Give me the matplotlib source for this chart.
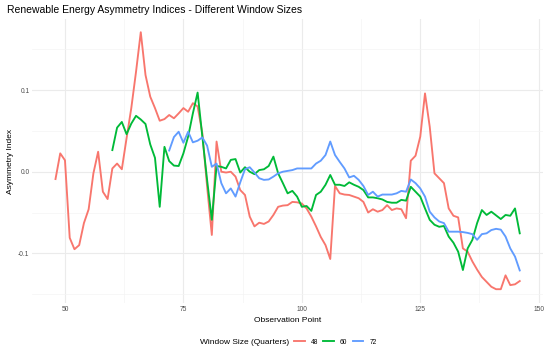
import numpy as np
import matplotlib
matplotlib.use("Agg")
import matplotlib.pyplot as plt
from matplotlib.lines import Line2D

plt.rcParams['font.family'] = ['Liberation Sans', 'DejaVu Sans']

# window size 48: observation points 48..146
x48 = list(range(48, 147))
y48 = [-0.009, 0.0225, 0.014, -0.081, -0.095, -0.090, -0.063, -0.046, -0.002, 0.0245,
       -0.0245, -0.0335, 0.004, 0.010, 0.003, 0.041, 0.078, 0.1225, 0.171, 0.1185,
       0.092, 0.078, 0.0625, 0.0645, 0.0695, 0.0655, 0.0715, 0.078, 0.0735, 0.084,
       0.080, 0.047, -0.018, -0.0775, 0.037, 0.000, -0.001, 0.000, -0.006, -0.0225,
       -0.0285, -0.055, -0.067, -0.0625, -0.064, -0.061, -0.053, -0.043, -0.0415, -0.041,
       -0.037, -0.0375, -0.039, -0.045, -0.055, -0.067, -0.080, -0.090, -0.107, -0.0175,
       -0.0265, -0.028, -0.0285, -0.0305, -0.0325, -0.037, -0.050, -0.046, -0.049, -0.047,
       -0.041, -0.047, -0.045, -0.046, -0.057, 0.0135, 0.0196, 0.043, 0.096, 0.055,
       -0.002, -0.008, -0.014, -0.045, -0.054, -0.056, -0.094, -0.098, -0.110, -0.120,
       -0.129, -0.135, -0.141, -0.144, -0.144, -0.127, -0.139, -0.138, -0.134]

# window size 60: observation points 60..146
x60 = list(range(60, 147))
y60 = [0.0265, 0.054, 0.061, 0.046, 0.059, 0.0685, 0.064, 0.0585, 0.0335, 0.017,
       -0.043, 0.0305, 0.013, 0.0075, 0.007, 0.0225, 0.043, 0.0715, 0.097, 0.043,
       -0.010, -0.059, 0.007, 0.006, 0.004, 0.0145, 0.0155, -0.001, 0.0055, 0.000,
       -0.003, 0.002, 0.003, 0.007, 0.0185, -0.002, -0.014, -0.0265, -0.0235, -0.0305,
       -0.043, -0.042, -0.048, -0.0285, -0.0245, -0.016, -0.004, -0.016, -0.016, -0.0175,
       -0.013, -0.016, -0.0185, -0.0225, -0.0315, -0.0315, -0.0325, -0.034, -0.037, -0.038,
       -0.038, -0.0345, -0.0355, -0.0185, -0.0245, -0.0305, -0.045, -0.059, -0.065, -0.0675,
       -0.0665, -0.0795, -0.087, -0.098, -0.1205, -0.094, -0.0835, -0.063, -0.047, -0.053,
       -0.049, -0.0535, -0.058, -0.053, -0.054, -0.045, -0.0755]

# window size 72: observation points 72..146
x72 = list(range(72, 147))
y72 = [0.026, 0.0425, 0.049, 0.0355, 0.049, 0.036, 0.038, 0.042, 0.032, 0.006,
       0.010, -0.014, -0.0265, -0.0205, -0.0305, -0.013, 0.003, 0.0055, -0.001, -0.008,
       -0.010, -0.0095, -0.006, -0.002, 0.000, 0.001, 0.002, 0.004, 0.004, 0.004,
       0.004, 0.010, 0.0135, 0.0205, 0.037, 0.0205, 0.012, 0.004, -0.007, -0.005,
       -0.010, -0.0175, -0.0285, -0.0245, -0.0305, -0.028, -0.028, -0.028, -0.0265, -0.0235,
       -0.0245, -0.0095, -0.014, -0.0205, -0.0305, -0.049, -0.056, -0.061, -0.063, -0.0735,
       -0.0735, -0.0735, -0.074, -0.075, -0.0765, -0.0835, -0.0765, -0.0755, -0.0715, -0.070,
       -0.071, -0.0795, -0.094, -0.104, -0.121]

series = [(x48, y48, "48", "#F8766D"),
          (x60, y60, "60", "#00BA38"),
          (x72, y72, "72", "#619CFF")]

fig = plt.figure(figsize=(5.5, 3.53), dpi=100)
ax = fig.add_axes([0.0587, 0.1419, 0.9285, 0.8034])

for xs, ys, lab, col in series:
    ax.plot(xs, ys, color=col, lw=1.35, label=lab, solid_joinstyle='round')

ax.set_xlim(43.1, 150.9)
ax.set_ylim(-0.1608, 0.1868)
ax.set_xticks([50, 75, 100, 125, 150])
ax.set_xticks([62.5, 87.5, 112.5, 137.5], minor=True)
ax.set_yticks([-0.1, 0.0, 0.1])
ax.set_yticks([-0.15, -0.05, 0.05, 0.15], minor=True)
ax.set_yticklabels(["-0.1", "0.0", "0.1"])
ax.grid(which='major', color='#EBEBEB', lw=0.8)
ax.grid(which='minor', color='#F4F4F4', lw=0.5)
ax.set_axisbelow(True)
for s in ax.spines.values():
    s.set_visible(False)
ax.tick_params(which='both', length=0, labelsize=4.8, labelcolor='#4D4D4D', pad=2)

ax.set_xlabel("Observation Point", fontsize=6, labelpad=3)
ax.set_ylabel("Asymmetry Index", fontsize=6, labelpad=3)

fig.text(7/550, 1 - 10/353, "Renewable Energy Asymmetry Indices - Different Window Sizes",
         fontsize=7.5, ha='left', va='center')

fig.text(200/550, 1 - 342/353, "Window Size (Quarters)", fontsize=6, ha='left', va='center')
handles = [Line2D([], [], color=c, lw=1.35) for _, _, _, c in series]
fig.legend(handles, [l for _, _, l, _ in series], loc='center left',
           bbox_to_anchor=(294/550, 1 - 342/353), ncol=3, frameon=False,
           fontsize=4.8, handlelength=1.6, handletextpad=0.9, columnspacing=0.8,
           borderpad=0, borderaxespad=0)

fig.savefig("out.png", dpi=100)
